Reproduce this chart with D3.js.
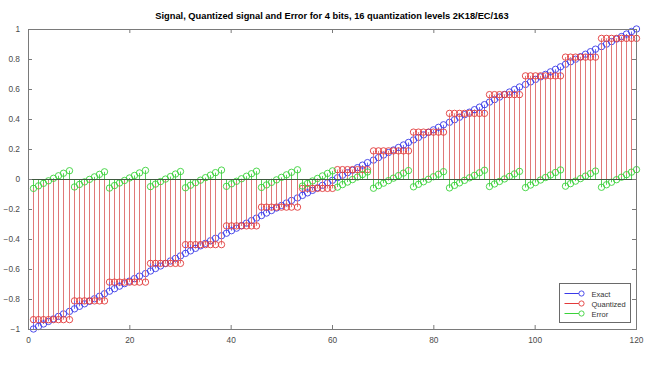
<!DOCTYPE html>
<html>
<head>
<meta charset="utf-8">
<script src="https://cdn.jsdelivr.net/npm/d3@7"></script>
<style>
html,body{margin:0;padding:0;background:#fff;}
svg{display:block;}
text{font-family:"Liberation Sans",Arial,Helvetica,sans-serif;}
</style>
</head>
<body>
<svg id="chart" width="655" height="369"></svg>
<script>
const titleText = "Signal, Quantized signal and Error for 4 bits, 16 quantization levels 2K18/EC/163";
const xTicks = [0, 20, 40, 60, 80, 100, 120];
const yTicks = [-1, -0.8, -0.6, -0.4, -0.2, 0, 0.2, 0.4, 0.6, 0.8, 1];
const seriesNames = ["Exact", "Quantized", "Error"];

const sampleIndex = [
  1,2,3,4,5,6,7,8,9,10,11,12,13,14,15,16,17,18,19,20,
  21,22,23,24,25,26,27,28,29,30,31,32,33,34,35,36,37,38,39,40,
  41,42,43,44,45,46,47,48,49,50,51,52,53,54,55,56,57,58,59,60,
  61,62,63,64,65,66,67,68,69,70,71,72,73,74,75,76,77,78,79,80,
  81,82,83,84,85,86,87,88,89,90,91,92,93,94,95,96,97,98,99,100,
  101,102,103,104,105,106,107,108,109,110,111,112,113,114,115,116,117,118,119,120
];

const exactValues = [
  -1.0000,-0.9832,-0.9664,-0.9496,-0.9328,-0.9160,-0.8992,-0.8824,-0.8655,-0.8487,
  -0.8319,-0.8151,-0.7983,-0.7815,-0.7647,-0.7479,-0.7311,-0.7143,-0.6975,-0.6807,
  -0.6639,-0.6471,-0.6303,-0.6134,-0.5966,-0.5798,-0.5630,-0.5462,-0.5294,-0.5126,
  -0.4958,-0.4790,-0.4622,-0.4454,-0.4286,-0.4118,-0.3950,-0.3782,-0.3613,-0.3445,
  -0.3277,-0.3109,-0.2941,-0.2773,-0.2605,-0.2437,-0.2269,-0.2101,-0.1933,-0.1765,
  -0.1597,-0.1429,-0.1261,-0.1092,-0.0924,-0.0756,-0.0588,-0.0420,-0.0252,-0.0084,
  0.0084,0.0252,0.0420,0.0588,0.0756,0.0924,0.1092,0.1261,0.1429,0.1597,
  0.1765,0.1933,0.2101,0.2269,0.2437,0.2605,0.2773,0.2941,0.3109,0.3277,
  0.3445,0.3613,0.3782,0.3950,0.4118,0.4286,0.4454,0.4622,0.4790,0.4958,
  0.5126,0.5294,0.5462,0.5630,0.5798,0.5966,0.6134,0.6303,0.6471,0.6639,
  0.6807,0.6975,0.7143,0.7311,0.7479,0.7647,0.7815,0.7983,0.8151,0.8319,
  0.8487,0.8655,0.8824,0.8992,0.9160,0.9328,0.9496,0.9664,0.9832,1.0000
];

const quantizedValues = [
  -0.9375,-0.9375,-0.9375,-0.9375,-0.9375,-0.9375,-0.9375,-0.9375,
  -0.8125,-0.8125,-0.8125,-0.8125,-0.8125,-0.8125,-0.8125,
  -0.6875,-0.6875,-0.6875,-0.6875,-0.6875,-0.6875,-0.6875,-0.6875,
  -0.5625,-0.5625,-0.5625,-0.5625,-0.5625,-0.5625,-0.5625,
  -0.4375,-0.4375,-0.4375,-0.4375,-0.4375,-0.4375,-0.4375,-0.4375,
  -0.3125,-0.3125,-0.3125,-0.3125,-0.3125,-0.3125,-0.3125,
  -0.1875,-0.1875,-0.1875,-0.1875,-0.1875,-0.1875,-0.1875,-0.1875,
  -0.0625,-0.0625,-0.0625,-0.0625,-0.0625,-0.0625,-0.0625,
  0.0625,0.0625,0.0625,0.0625,0.0625,0.0625,0.0625,
  0.1875,0.1875,0.1875,0.1875,0.1875,0.1875,0.1875,0.1875,
  0.3125,0.3125,0.3125,0.3125,0.3125,0.3125,0.3125,
  0.4375,0.4375,0.4375,0.4375,0.4375,0.4375,0.4375,0.4375,
  0.5625,0.5625,0.5625,0.5625,0.5625,0.5625,0.5625,
  0.6875,0.6875,0.6875,0.6875,0.6875,0.6875,0.6875,0.6875,
  0.8125,0.8125,0.8125,0.8125,0.8125,0.8125,0.8125,
  0.9375,0.9375,0.9375,0.9375,0.9375,0.9375,0.9375,0.9375
];

const errorValues = [
  -0.0625,-0.0457,-0.0289,-0.0121,0.0047,0.0215,0.0383,0.0551,
  -0.0530,-0.0362,-0.0194,-0.0026,0.0142,0.0310,0.0478,
  -0.0604,-0.0436,-0.0268,-0.0100,0.0068,0.0236,0.0404,0.0572,
  -0.0509,-0.0341,-0.0173,-0.0005,0.0163,0.0331,0.0499,
  -0.0583,-0.0415,-0.0247,-0.0079,0.0089,0.0257,0.0425,0.0593,
  -0.0488,-0.0320,-0.0152,0.0016,0.0184,0.0352,0.0520,
  -0.0562,-0.0394,-0.0226,-0.0058,0.0110,0.0278,0.0446,0.0614,
  -0.0467,-0.0299,-0.0131,0.0037,0.0205,0.0373,0.0541,
  -0.0541,-0.0373,-0.0205,-0.0037,0.0131,0.0299,0.0467,
  -0.0614,-0.0446,-0.0278,-0.0110,0.0058,0.0226,0.0394,0.0562,
  -0.0520,-0.0352,-0.0184,-0.0016,0.0152,0.0320,0.0488,
  -0.0593,-0.0425,-0.0257,-0.0089,0.0079,0.0247,0.0415,0.0583,
  -0.0499,-0.0331,-0.0163,0.0005,0.0173,0.0341,0.0509,
  -0.0572,-0.0404,-0.0236,-0.0068,0.0100,0.0268,0.0436,0.0604,
  -0.0478,-0.0310,-0.0142,0.0026,0.0194,0.0362,0.0530,
  -0.0551,-0.0383,-0.0215,-0.0047,0.0121,0.0289,0.0457,0.0625
];

const svg = d3.select("#chart");
const W = 655, H = 369;
const m = {left: 28, right: 19, top: 29, bottom: 40};
const pw = W - m.left - m.right, ph = H - m.top - m.bottom;

const x = d3.scaleLinear().domain([0, 120]).range([m.left, m.left + pw]);
const y = d3.scaleLinear().domain([-1, 1]).range([m.top + ph, m.top]);
const xs = d => Math.round(x(d)) + 0.5;

svg.append("rect").attr("x", 0).attr("y", 0).attr("width", W).attr("height", H).attr("fill", "#fff");

const series = [
  {name: seriesNames[0], values: exactValues, stem: "#6a6af0", mark: "#3a3ae8"},
  {name: seriesNames[1], values: quantizedValues, stem: "#e07878", mark: "#e23a3a"},
  {name: seriesNames[2], values: errorValues, stem: "#5ad05a", mark: "#3ad23a"}
];

const plot = svg.append("g");
series.forEach(s => {
  const g = plot.append("g");
  g.selectAll("line").data(sampleIndex).join("line")
    .attr("x1", d => xs(d)).attr("x2", d => xs(d))
    .attr("y1", y(0)).attr("y2", (d, i) => y(s.values[i]))
    .attr("stroke", s.stem).attr("stroke-width", 1);
  g.selectAll("circle").data(sampleIndex).join("circle")
    .attr("cx", d => xs(d)).attr("cy", (d, i) => y(s.values[i]))
    .attr("r", 3.2).attr("fill", "none")
    .attr("stroke", s.mark).attr("stroke-width", 0.9);
});

// baseline
svg.append("line").attr("x1", x(0)).attr("x2", x(120)).attr("y1", Math.round(y(0)) + 0.5).attr("y2", Math.round(y(0)) + 0.5)
  .attr("stroke", "#3f5a3f").attr("stroke-width", 1);

// axes box
const axisColor = "#7a7a7a";
const axes = svg.append("g");
const xb = d3.axisBottom(x).tickValues(xTicks).tickSize(-4).tickPadding(8).tickFormat(d3.format("d"));
const xt = d3.axisTop(x).tickValues(xTicks).tickSize(-4).tickFormat("");
const yl = d3.axisLeft(y).tickValues(yTicks).tickSize(-4).tickPadding(8).tickFormat(d => d3.format("")(+d.toFixed(1)));
const yr = d3.axisRight(y).tickValues(yTicks).tickSize(-4).tickFormat("");

function style(g) {
  g.select(".domain").remove();
  g.selectAll(".tick line").attr("stroke", axisColor);
  g.selectAll(".tick text").attr("fill", "#4a4a4a").style("font-size", "8.3px")
    .style("font-family", "'Liberation Sans', Arial, sans-serif");
}
axes.append("g").attr("transform", `translate(0,${m.top + ph})`).call(xb).call(style);
axes.append("g").attr("transform", `translate(0,${m.top})`).call(xt).call(style);
axes.append("g").attr("transform", `translate(${m.left},0)`).call(yl).call(style);
axes.append("g").attr("transform", `translate(${m.left + pw},0)`).call(yr).call(style);
axes.append("rect").attr("x", m.left + 0.5).attr("y", m.top + 0.5).attr("width", pw).attr("height", ph)
  .attr("fill", "none").attr("stroke", axisColor).attr("stroke-width", 1);

// title
svg.append("text").attr("x", m.left + pw / 2).attr("y", 19).attr("text-anchor", "middle")
  .style("font-size", "9.3px").style("font-weight", "bold").attr("fill", "#000")
  .text(titleText);

// legend
const lg = svg.append("g").attr("transform", "translate(559.5,283.5)");
lg.append("rect").attr("x", 0).attr("y", 0).attr("width", 71).attr("height", 39)
  .attr("fill", "#fff").attr("stroke", "#6a6a6a").attr("stroke-width", 1);
series.forEach((s, i) => {
  const yy = 10 + i * 10;
  lg.append("line").attr("x1", 5).attr("x2", 22).attr("y1", yy).attr("y2", yy)
    .attr("stroke", s.mark).attr("stroke-width", 1);
  lg.append("circle").attr("cx", 22).attr("cy", yy).attr("r", 2.6)
    .attr("fill", "#fff").attr("stroke", s.mark).attr("stroke-width", 0.9);
  lg.append("text").attr("x", 32).attr("y", yy + 3).style("font-size", "7.5px")
    .attr("fill", "#333").text(s.name);
});
</script>
</body>
</html>
